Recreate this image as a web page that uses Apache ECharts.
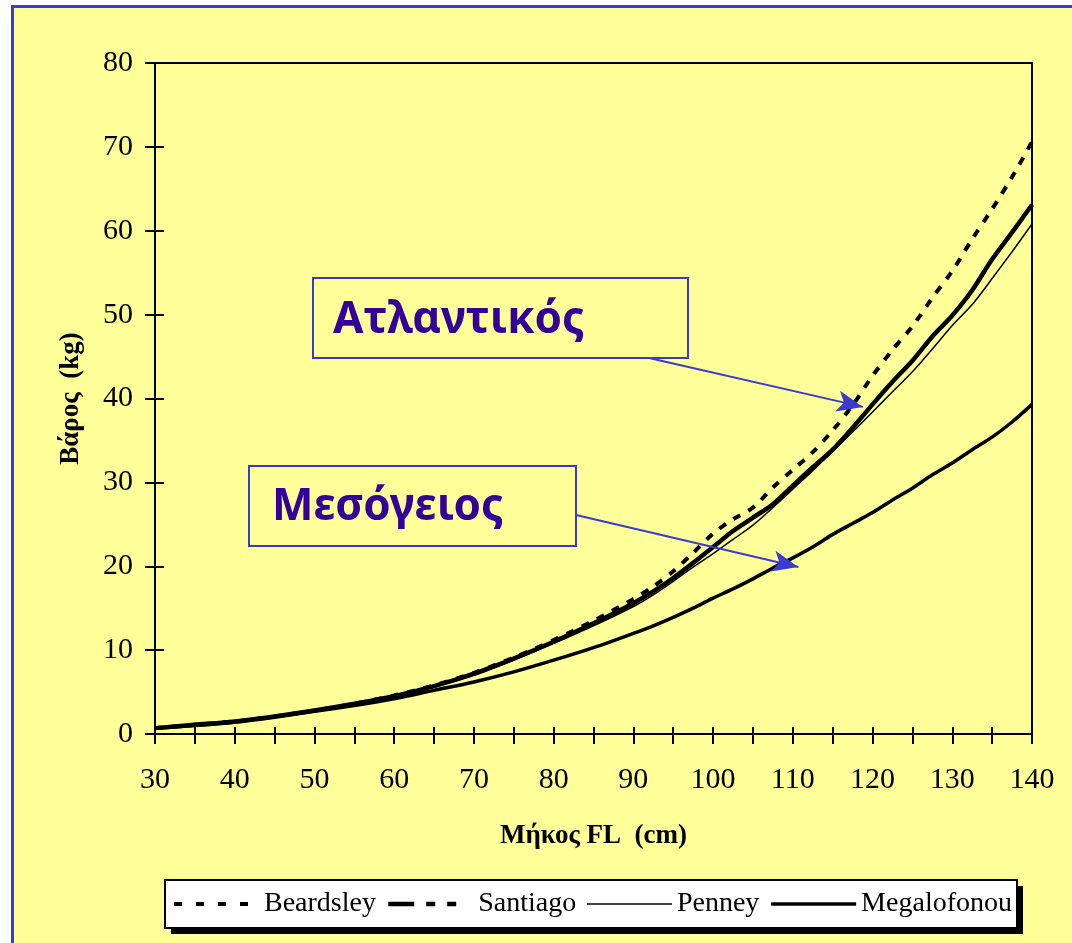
<!DOCTYPE html>
<html>
<head>
<meta charset="utf-8">
<script src="https://cdn.jsdelivr.net/npm/echarts@6/dist/echarts.min.js"></script>
<style>
  html, body { margin: 0; padding: 0; background: #ffffff; }
  #frame { position: absolute; left: 11px; top: 5px; width: 1061px; height: 938px;
           background: #FFFF99; border-left: 3px solid #3B3BD0; border-top: 3px solid #3B3BD0; box-sizing: border-box; }
  #chart { position: absolute; left: 0; top: 0; width: 1072px; height: 943px; }
</style>
</head>
<body>
<div id="frame"></div>
<div id="chart"></div>
<script>
// Fork length (cm)
const lengths = [30, 35, 40, 45, 50, 55, 60, 65, 70, 75, 80, 85, 90,
  92.5, 95, 97.5, 100, 102.5, 105, 107.5, 110, 112.5, 115, 117.5, 120,
  122.5, 125, 127.5, 130, 132.5, 135, 137.5, 140];
// Weight (kg)
const beardsley = [0.7, 1.1, 1.5, 2.1, 2.8, 3.6, 4.6, 5.8, 7.3, 9.1, 11.2, 13.5, 16.1,
  17.6, 19.4, 21.6, 23.9, 25.6, 27.0, 29.4, 31.5, 33.6, 36.2, 39.2, 42.7,
  45.8, 48.6, 52.0, 55.2, 59.0, 62.6, 66.4, 70.6];
const santiago = [0.7, 1.1, 1.5, 2.1, 2.8, 3.6, 4.5, 5.7, 7.2, 9.0, 11.0, 13.2, 15.6,
  17.0, 18.6, 20.4, 22.3, 24.2, 25.8, 27.4, 29.6, 31.8, 33.9, 36.5, 39.3,
  42.0, 44.5, 47.4, 49.9, 52.9, 56.6, 59.8, 63.1];
const penney = [0.7, 1.0, 1.5, 2.0, 2.7, 3.5, 4.4, 5.6, 7.0, 8.8, 10.8, 12.9, 15.2,
  16.6, 18.2, 19.9, 21.5, 23.2, 24.9, 27.0, 29.2, 31.4, 33.7, 36.0, 38.4,
  40.8, 43.2, 45.9, 48.7, 51.2, 54.3, 57.5, 60.8];
const megalofonou = [0.7, 1.0, 1.4, 2.0, 2.7, 3.4, 4.2, 5.2, 6.2, 7.4, 8.8, 10.3, 12.0,
  12.9, 13.9, 15.0, 16.2, 17.3, 18.5, 19.8, 21.0, 22.3, 23.8, 25.1, 26.4,
  27.9, 29.3, 30.9, 32.3, 33.9, 35.4, 37.2, 39.3];
const seriesNames = ['Beardsley', 'Santiago', 'Penney', 'Megalofonou'];
const xTitle = 'Μήκος FL  (cm)';
const yTitle = 'Βάρος  (kg)';
const annotations = ['Ατλαντικός', 'Μεσόγειος'];

const pair = arr => lengths.map((x, i) => [x, arr[i]]);
const SERIF = '"Liberation Serif", "Times New Roman", serif';
const ARROW = '#3B3BD0';
const ANNOT_FONT = 'bold 44px "Noto Sans", sans-serif';

const chart = echarts.init(document.getElementById('chart'));
const tickFmt = v => (v % 10 === 0 ? String(v) : '');

chart.setOption({
  backgroundColor: 'transparent',
  animation: false,
  grid: { left: 155, right: 40, top: 63, bottom: 209, show: true,
          borderColor: '#000', borderWidth: 2, backgroundColor: 'transparent' },
  legend: {
    left: 165, top: 880, padding: [9, 7], itemGap: 10, itemWidth: 85, itemHeight: 14, z: 20,
    backgroundColor: 'transparent', borderWidth: 0,
    itemStyle: { opacity: 0, borderWidth: 0 },
    textStyle: { fontFamily: SERIF, fontSize: 28, color: '#000', lineHeight: 30 },
    data: [
      { name: seriesNames[0], lineStyle: { width: 4, type: [8, 14] } },
      { name: seriesNames[1], lineStyle: { width: 4.5, type: [26, 12, 9, 12, 9, 17] } },
      { name: seriesNames[2], lineStyle: { width: 1.5 } },
      { name: seriesNames[3], lineStyle: { width: 3.5 } }
    ]
  },
  xAxis: [
    { type: 'value', min: 30, max: 140, interval: 5, position: 'bottom',
      name: xTitle, nameLocation: 'middle', nameGap: 89,
      nameTextStyle: { fontFamily: SERIF, fontSize: 27, fontWeight: 'bold', color: '#000' },
      axisLine: { lineStyle: { color: '#000', width: 2 } },
      axisTick: { length: 10, lineStyle: { color: '#000', width: 2 } },
      axisLabel: { formatter: tickFmt, margin: 31, fontFamily: SERIF, fontSize: 30, color: '#000' },
      splitLine: { show: false } },
    { type: 'value', min: 30, max: 140, interval: 5, position: 'bottom',
      axisLine: { show: false },
      axisTick: { inside: true, length: 7, lineStyle: { color: '#000', width: 2 } },
      axisLabel: { show: false }, splitLine: { show: false } }
  ],
  yAxis: [
    { type: 'value', min: 0, max: 80, interval: 10, position: 'left',
      name: yTitle, nameLocation: 'middle', nameGap: 70,
      nameTextStyle: { fontFamily: SERIF, fontSize: 27, fontWeight: 'bold', color: '#000' },
      axisLine: { show: true, lineStyle: { color: '#000', width: 2 } },
      axisTick: { show: true, length: 10, lineStyle: { color: '#000', width: 2 } },
      axisLabel: { margin: 22, fontFamily: SERIF, fontSize: 30, color: '#000' },
      splitLine: { show: false } },
    { type: 'value', min: 0, max: 80, interval: 10, position: 'left',
      axisLine: { show: false },
      axisTick: { show: true, inside: true, length: 9, lineStyle: { color: '#000', width: 2 } },
      axisLabel: { show: false }, splitLine: { show: false } }
  ],
  series: [
    { name: 'Megalofonou', type: 'line', data: pair(megalofonou), symbol: 'none', smooth: 0.3,
      lineStyle: { color: '#000', width: 3.5, type: 'solid' }, itemStyle: { color: '#000' },
      markLine: {
        silent: true, symbol: ['none', 'arrow'], symbolSize: [16, 26],
        label: { show: false }, emphasis: { disabled: true },
        lineStyle: { color: ARROW, width: 2, type: 'solid' },
        data: [
          [{ coord: [92.1, 44.8] }, { coord: [118.8, 39.0] }],
          [{ coord: [82.8, 26.1] }, { coord: [110.7, 19.9] }]
        ]
      } },
    { name: 'Penney', type: 'line', data: pair(penney), symbol: 'none', smooth: 0.3,
      lineStyle: { color: '#000', width: 1.5, type: 'solid' }, itemStyle: { color: '#000' } },
    { name: 'Santiago', type: 'line', data: pair(santiago), symbol: 'none', smooth: 0.3,
      lineStyle: { color: '#000', width: 4.5, type: 'solid' }, itemStyle: { color: '#000' } },
    { name: 'Beardsley', type: 'line', data: pair(beardsley), symbol: 'none', smooth: 0.3,
      lineStyle: { color: '#000', width: 4, type: [8, 9] }, itemStyle: { color: '#000' } }
  ],
  graphic: [
    // legend box with hard shadow
    { type: 'rect', shape: { x: 171, y: 886, width: 852, height: 48 },
      style: { fill: '#000' }, z: 1 },
    { type: 'rect', shape: { x: 165, y: 880, width: 852, height: 48 },
      style: { fill: '#ffffff', stroke: '#000', lineWidth: 2 }, z: 2 },
    // annotation boxes
    { type: 'rect', shape: { x: 313, y: 278, width: 375, height: 80 },
      style: { fill: '#FFFF99', stroke: ARROW, lineWidth: 2 }, z: 100 },
    { type: 'text', x: 333, y: 320, z: 101,
      style: { text: annotations[0], fill: '#330099', font: ANNOT_FONT,
               align: 'left', verticalAlign: 'middle' } },
    { type: 'rect', shape: { x: 249, y: 466, width: 327, height: 80 },
      style: { fill: '#FFFF99', stroke: ARROW, lineWidth: 2 }, z: 100 },
    { type: 'text', x: 272, y: 507, z: 101,
      style: { text: annotations[1], fill: '#330099', font: ANNOT_FONT,
               align: 'left', verticalAlign: 'middle' } }
  ]
});
</script>
</body>
</html>
